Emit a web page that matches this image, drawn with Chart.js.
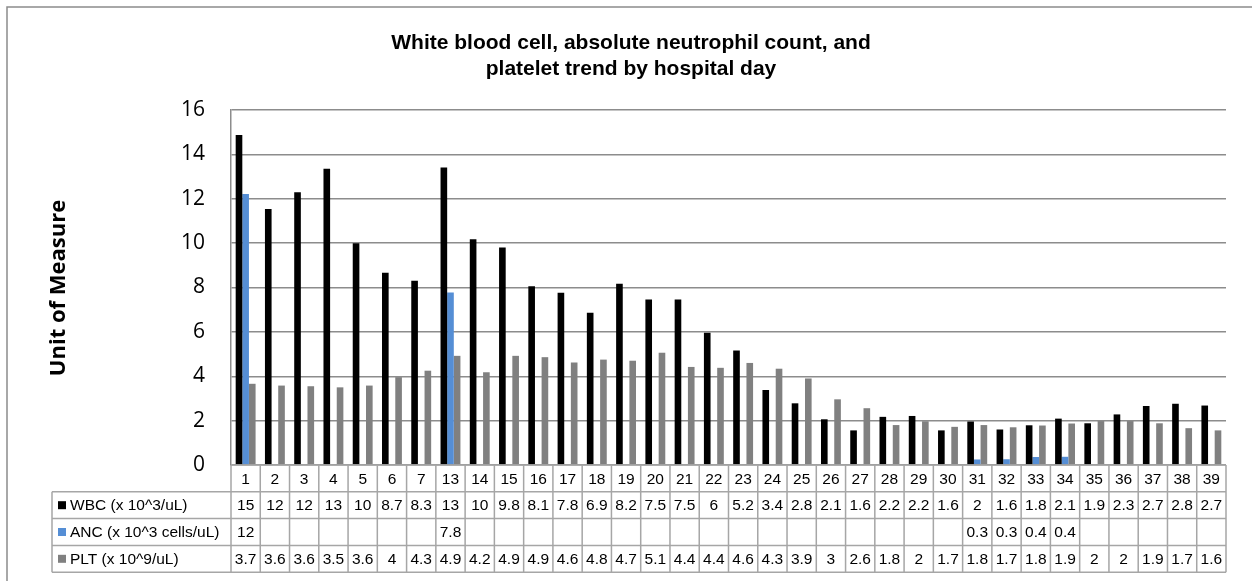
<!DOCTYPE html>
<html lang="en">
<head>
    <meta charset="UTF-8">
    <title>WBC, ANC and PLT trend</title>
    <script src="https://cdn.jsdelivr.net/npm/chart.js@4.4.1/dist/chart.umd.min.js"></script>
    <style>
        html, body { margin: 0; padding: 0; background: #fff; }
        #chart { display: block; }
    </style>
</head>
<body>
    <canvas id="chart" width="1252" height="581"></canvas>

    <script>
        // hospital days (8 to 12 are missing in the source)
        const days = ['1', '2', '3', '4', '5', '6', '7', '13', '14', '15', '16', '17', '18', '19', '20', '21', '22', '23', '24', '25', '26', '27', '28', '29', '30', '31', '32', '33', '34', '35', '36', '37', '38', '39'];

        const wbc = [14.87, 11.54, 12.29, 13.35, 10.0, 8.66, 8.3, 13.41, 10.17, 9.8, 8.06, 7.76, 6.86, 8.17, 7.46, 7.46, 5.96, 5.16, 3.38, 2.78, 2.06, 1.56, 2.17, 2.21, 1.56, 1.96, 1.6, 1.79, 2.09, 1.88, 2.28, 2.66, 2.76, 2.68];
        const anc = [12.21, null, null, null, null, null, null, 7.78, null, null, null, null, null, null, null, null, null, null, null, null, null, null, null, null, null, 0.25, 0.26, 0.36, 0.37, null, null, null, null, null];
        const plt = [3.66, 3.58, 3.55, 3.5, 3.58, 3.96, 4.25, 4.92, 4.18, 4.92, 4.86, 4.62, 4.75, 4.7, 5.06, 4.42, 4.38, 4.6, 4.34, 3.9, 2.96, 2.56, 1.8, 1.97, 1.72, 1.8, 1.7, 1.78, 1.87, 1.98, 1.98, 1.88, 1.66, 1.56];

        const seriesNames = ['WBC (x 10^3/uL)', 'ANC (x 10^3 cells/uL)', 'PLT (x 10^9/uL)'];
        const seriesColors = ['#000000', '#558ED5', '#808080'];
        const yTicks = [0, 2, 4, 6, 8, 10, 12, 14, 16];

        const titleLines = ['White blood cell, absolute neutrophil count, and', 'platelet trend by hospital day'];
        const yTitle = 'Unit of Measure';

        const lineGray = '#8c8c8c';
        const tableGray = '#a6a6a6';

        // excel "General" in a narrow cell
        function fmt(v) {
            if (v === null || v === undefined) return '';
            if (v >= 10) return String(Math.round(v));
            return String(Math.round(v * 10) / 10);
        }

        // title, frame, axis title and the data table under the plot
        const extrasPlugin = {
            id: 'extras',
            afterDraw(chart) {
                const ctx = chart.ctx;
                const area = chart.chartArea;
                const xs = chart.scales.x;
                const n = days.length;
                const colW = (area.right - area.left) / n;
                const rowH = 26.8;
                const headLeft = 52;

                ctx.save();

                // outer frame (only top/left fall inside the picture)
                ctx.strokeStyle = lineGray;
                ctx.lineWidth = 1.5;
                ctx.beginPath();
                ctx.moveTo(7, 581);
                ctx.lineTo(7, 7);
                ctx.lineTo(1252, 7);
                ctx.stroke();

                // title
                ctx.fillStyle = '#000';
                ctx.font = 'bold 21px "Liberation Sans", Arial, sans-serif';
                ctx.textAlign = 'center';
                ctx.textBaseline = 'alphabetic';
                ctx.fillText(titleLines[0], 631, 49);
                ctx.fillText(titleLines[1], 631, 75);

                // y axis title
                ctx.save();
                ctx.translate(59, 288);
                ctx.rotate(-Math.PI / 2);
                ctx.font = 'bold 22px "Open Sans", sans-serif';
                ctx.textBaseline = 'middle';
                ctx.fillText(yTitle, 0, 0);
                ctx.restore();

                // data table
                const top = area.bottom;
                const bottom = top + rowH * 4;
                ctx.strokeStyle = tableGray;
                ctx.lineWidth = 1.5;
                ctx.beginPath();
                ctx.moveTo(area.left, top);
                ctx.lineTo(area.right, top);
                for (let r = 1; r <= 4; r++) {
                    ctx.moveTo(headLeft, top + rowH * r);
                    ctx.lineTo(area.right, top + rowH * r);
                }
                for (let i = 0; i <= n; i++) {
                    const x = area.left + colW * i;
                    ctx.moveTo(x, top);
                    ctx.lineTo(x, bottom);
                }
                ctx.moveTo(headLeft, top + rowH);
                ctx.lineTo(headLeft, bottom);
                ctx.stroke();

                ctx.font = '15.5px "Liberation Sans", Arial, sans-serif';
                ctx.textBaseline = 'middle';
                ctx.fillStyle = '#000';
                ctx.textAlign = 'center';
                const rows = [wbc, anc, plt];
                for (let i = 0; i < n; i++) {
                    const cx = xs.getPixelForValue(i);
                    ctx.fillText(days[i], cx, top + rowH * 0.5 + 1);
                    rows.forEach((vals, r) => {
                        ctx.fillText(fmt(vals[i]), cx, top + rowH * (r + 1.5) + 1);
                    });
                }

                // row headers with legend keys
                ctx.textAlign = 'left';
                seriesNames.forEach((name, r) => {
                    const cy = top + rowH * (r + 1.5);
                    ctx.fillStyle = seriesColors[r];
                    ctx.fillRect(58, cy - 4, 8, 8);
                    ctx.fillStyle = '#000';
                    ctx.fillText(name, 70, cy + 1);
                });

                ctx.restore();
            }
        };

        const ctx = document.getElementById('chart').getContext('2d');
        const chart = new Chart(ctx, {
            type: 'bar',
            data: {
                labels: days,
                datasets: [
                    { label: seriesNames[0], data: wbc, backgroundColor: seriesColors[0] },
                    { label: seriesNames[1], data: anc, backgroundColor: seriesColors[1] },
                    { label: seriesNames[2], data: plt, backgroundColor: seriesColors[2] }
                ]
            },
            options: {
                responsive: false,
                devicePixelRatio: 1,
                animation: false,
                layout: {
                    padding: { left: 0, top: 110, right: 26, bottom: 116 }
                },
                datasets: {
                    bar: { barPercentage: 1, categoryPercentage: 0.68 }
                },
                plugins: {
                    legend: { display: false },
                    title: { display: false },
                    tooltip: { enabled: false }
                },
                scales: {
                    x: { display: false },
                    y: {
                        min: 0,
                        max: 16,
                        afterFit(scale) { scale.width = 231; },
                        afterBuildTicks(scale) { scale.ticks = yTicks.map(v => ({ value: v })); },
                        border: { display: true, color: lineGray, width: 1.5 },
                        grid: { color: lineGray, lineWidth: 1.5, drawTicks: false },
                        ticks: {
                            padding: 26,
                            color: '#000',
                            font: { family: '"Open Sans", sans-serif', size: 21 }
                        }
                    }
                }
            },
            plugins: [extrasPlugin]
        });
    </script>
</body>
</html>
